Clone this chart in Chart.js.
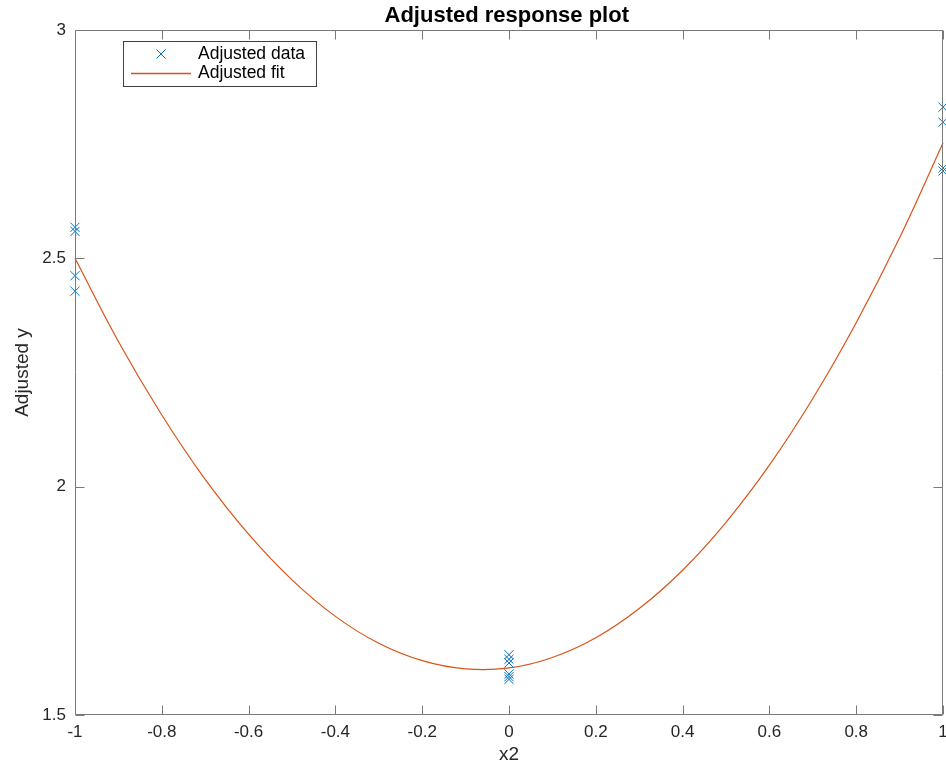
<!DOCTYPE html>
<html>
<head>
<meta charset="utf-8">
<script src="https://cdn.jsdelivr.net/npm/chart.js@4/dist/chart.umd.min.js"></script>
<style>
html,body{margin:0;padding:0;background:#fff;}
#wrap{width:946px;height:771px;position:relative;}
</style>
</head>
<body>
<div id="wrap"><canvas id="c" width="946" height="771"></canvas></div>
<script>
// ---- data ----
const dataX_m1 = [-1, -1, -1, -1];
const dataY_m1 = [2.568, 2.559, 2.462, 2.428];
const dataX_0 = [0, 0, 0, 0, 0, 0];
const dataY_0 = [1.632, 1.622, 1.614, 1.590, 1.584, 1.578];
const dataX_p1 = [1, 1, 1, 1];
const dataY_p1 = [2.831, 2.798, 2.698, 2.691];

const fitX = [-1, -0.9, -0.8, -0.7, -0.6, -0.5, -0.4, -0.3, -0.2, -0.1, 0, 0.1, 0.2, 0.3, 0.4, 0.5, 0.6, 0.7, 0.8, 0.9, 1];
const fitY = [2.500, 2.318, 2.157, 2.016, 1.896, 1.796, 1.716, 1.657, 1.619, 1.601, 1.603, 1.626, 1.669, 1.733, 1.817, 1.922, 2.047, 2.193, 2.359, 2.545, 2.7525];

const xTickValues = [-1, -0.8, -0.6, -0.4, -0.2, 0, 0.2, 0.4, 0.6, 0.8, 1];
const xTickLabels = ['-1', '-0.8', '-0.6', '-0.4', '-0.2', '0', '0.2', '0.4', '0.6', '0.8', '1'];
const yTickValues = [1.5, 2, 2.5, 3];
const yTickLabels = ['1.5', '2', '2.5', '3'];

const titleText = 'Adjusted response plot';
const xTitle = 'x2';
const yTitle = 'Adjusted y';
const seriesNames = ['Adjusted data', 'Adjusted fit'];

const BLUE = '#0072BD';
const ORANGE = '#D95319';
const AXIS = '#7a7a7a';
const TXT = '#262626';
const FONT = "'Liberation Sans', Arial, Helvetica, sans-serif";
const RIGHT_GAP = 3;

function pts(xs, ys){ return xs.map((x,i)=>({x:x, y:ys[i]})); }
const scatterPts = pts(dataX_m1, dataY_m1).concat(pts(dataX_0, dataY_0), pts(dataX_p1, dataY_p1));

// extend plot area to the right edge like the MATLAB axes
const rightEdgePlugin = {
  id: 'rightEdge',
  afterLayout(chart){
    const target = chart.width - RIGHT_GAP;
    const xs = chart.scales.x;
    chart.chartArea.right = target;
    chart.chartArea.width = target - chart.chartArea.left;
    xs.right = target;
    xs.width = target - xs.left;
    xs.configure();
    const ys = chart.scales.y;
    ys.configure();
  }
};

const boxPlugin = {
  id: 'matlabBox',
  afterDraw(chart){
    const ctx = chart.ctx;
    const a = chart.chartArea;
    const xs = chart.scales.x, ys = chart.scales.y;
    const L = Math.round(a.left)+0.5, R = Math.round(a.right)-0.5, T = Math.round(a.top)+0.5, B = Math.round(a.bottom)-0.5;
    const tl = 9;
    ctx.save();
    ctx.strokeStyle = AXIS;
    ctx.lineWidth = 1;
    ctx.beginPath();
    ctx.rect(L, T, R-L, B-T);
    xTickValues.forEach(v=>{
      const p = Math.round(xs.getPixelForValue(v))+0.5;
      ctx.moveTo(p, B); ctx.lineTo(p, B-tl);
      ctx.moveTo(p, T); ctx.lineTo(p, T+tl);
    });
    yTickValues.forEach(v=>{
      const p = Math.round(ys.getPixelForValue(v))+0.5;
      ctx.moveTo(L, p); ctx.lineTo(L+tl, p);
      ctx.moveTo(R, p); ctx.lineTo(R-tl, p);
    });
    ctx.stroke();

    // legend
    const lx = 123.5, ly = 41.5, lw = 193, lh = 45;
    ctx.fillStyle = '#fff';
    ctx.fillRect(lx, ly, lw, lh);
    ctx.strokeStyle = '#404040';
    ctx.strokeRect(lx, ly, lw, lh);
    // marker
    const mx = 161, my = 54, r = 4.6;
    ctx.strokeStyle = BLUE;
    ctx.beginPath();
    ctx.moveTo(mx-r, my-r); ctx.lineTo(mx+r, my+r);
    ctx.moveTo(mx-r, my+r); ctx.lineTo(mx+r, my-r);
    ctx.stroke();
    ctx.strokeStyle = ORANGE;
    ctx.lineWidth = 1.4;
    ctx.beginPath();
    ctx.moveTo(131, 73.5); ctx.lineTo(191, 73.5);
    ctx.stroke();
    ctx.fillStyle = '#000';
    ctx.font = "17.5px " + FONT;
    ctx.textBaseline = 'middle';
    ctx.textAlign = 'left';
    ctx.fillText(seriesNames[0], 198, 54);
    ctx.fillText(seriesNames[1], 198, 73);
    ctx.restore();
  }
};

new Chart(document.getElementById('c'), {
  type: 'scatter',
  data: {
    datasets: [
      {
        label: seriesNames[0],
        data: scatterPts,
        pointStyle: 'crossRot',
        pointRadius: 6.5,
        pointHoverRadius: 6.5,
        borderColor: BLUE,
        backgroundColor: BLUE,
        borderWidth: 1,
        showLine: false,
        clip: false,
        order: 1
      },
      {
        label: seriesNames[1],
        data: pts(fitX, fitY),
        showLine: true,
        pointRadius: 0,
        borderColor: ORANGE,
        borderWidth: 1.2,
        tension: 0.4,
        fill: false,
        clip: false,
        order: 2
      }
    ]
  },
  options: {
    responsive: false,
    animation: false,
    events: [],
    layout: { padding: { top: 0, right: 3, bottom: 0, left: 0 } },
    plugins: {
      legend: { display: false },
      tooltip: { enabled: false },
      title: {
        display: true,
        text: titleText,
        fullSize: false,
        color: '#000',
        font: { family: FONT, size: 22, weight: 'bold', lineHeight: 1.2 },
        padding: { top: 2.5, bottom: 1.1 }
      }
    },
    scales: {
      x: {
        type: 'linear',
        min: -1, max: 1,
        afterBuildTicks(s){ s.ticks = xTickValues.map(v=>({value:v})); },
        afterFit(s){ s.height = 56; s.paddingLeft = 0; s.paddingRight = 0; },
        grid: { display: false, drawTicks: false },
        border: { display: false },
        ticks: {
          color: TXT,
          padding: 7,
          maxRotation: 0,
          autoSkip: false,
          font: { family: FONT, size: 17 },
          callback(v, i){ return xTickLabels[i]; }
        },
        title: {
          display: true, text: xTitle, color: TXT,
          font: { family: FONT, size: 19 },
          padding: { top: 0, bottom: 5 }
        }
      },
      y: {
        type: 'linear',
        min: 1.5, max: 3,
        afterBuildTicks(s){ s.ticks = yTickValues.map(v=>({value:v})); },
        afterFit(s){ s.width = 75; s.paddingTop = 0; s.paddingBottom = 0; },
        grid: { display: false, drawTicks: false },
        border: { display: false },
        ticks: {
          color: TXT,
          padding: 9,
          autoSkip: false,
          font: { family: FONT, size: 17 },
          callback(v, i){ return yTickLabels[i]; }
        },
        title: {
          display: true, text: yTitle, color: TXT,
          font: { family: FONT, size: 19 },
          padding: { top: 11, bottom: 0 }
        }
      }
    }
  },
  plugins: [rightEdgePlugin, boxPlugin]
});
</script>
</body>
</html>
